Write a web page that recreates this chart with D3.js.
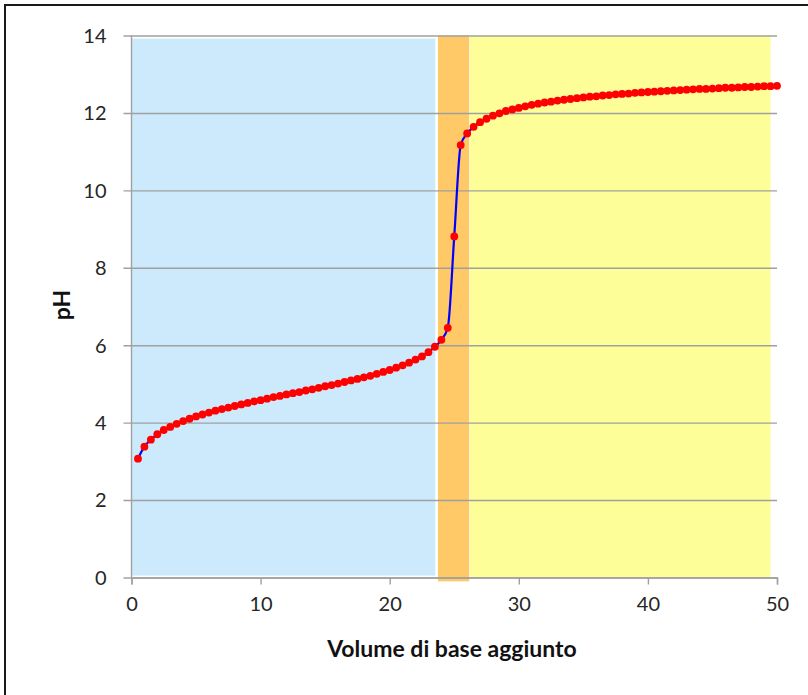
<!DOCTYPE html>
<html>
<head>
<meta charset="utf-8">
<script src="https://cdn.jsdelivr.net/npm/d3@7"></script>
<style>
  html, body { margin: 0; padding: 0; background: #ffffff; }
  svg { display: block; }
</style>
</head>
<body>
<svg id="chart" width="808" height="695"></svg>
<script>
// Titration curve: pH vs volume of base added (mL)
const volumes = [
  0.5, 1, 1.5, 2, 2.5, 3, 3.5, 4, 4.5, 5, 5.5, 6, 6.5, 7, 7.5, 8, 8.5, 9, 9.5, 10,
  10.5, 11, 11.5, 12, 12.5, 13, 13.5, 14, 14.5, 15, 15.5, 16, 16.5, 17, 17.5, 18, 18.5, 19, 19.5, 20,
  20.5, 21, 21.5, 22, 22.5, 23, 23.5, 24, 24.5, 25, 25.5, 26, 26.5, 27, 27.5, 28, 28.5, 29, 29.5, 30,
  30.5, 31, 31.5, 32, 32.5, 33, 33.5, 34, 34.5, 35, 35.5, 36, 36.5, 37, 37.5, 38, 38.5, 39, 39.5, 40,
  40.5, 41, 41.5, 42, 42.5, 43, 43.5, 44, 44.5, 45, 45.5, 46, 46.5, 47, 47.5, 48, 48.5, 49, 49.5, 50
];
const phValues = [
  3.07, 3.38, 3.56, 3.70, 3.81, 3.89, 3.97, 4.04, 4.10, 4.16, 4.21, 4.26, 4.31, 4.35, 4.39, 4.43, 4.47, 4.51, 4.55, 4.58,
  4.62, 4.66, 4.69, 4.73, 4.76, 4.79, 4.83, 4.86, 4.90, 4.94, 4.97, 5.01, 5.05, 5.09, 5.13, 5.17, 5.21, 5.26, 5.31, 5.36,
  5.42, 5.48, 5.55, 5.63, 5.71, 5.82, 5.96, 6.14, 6.45, 8.81, 11.17, 11.47, 11.64, 11.76, 11.85, 11.93, 11.99, 12.05, 12.09, 12.13,
  12.17, 12.21, 12.24, 12.27, 12.29, 12.32, 12.34, 12.36, 12.38, 12.40, 12.42, 12.43, 12.45, 12.46, 12.48, 12.49, 12.50, 12.52, 12.53, 12.54,
  12.55, 12.56, 12.57, 12.58, 12.59, 12.60, 12.61, 12.62, 12.62, 12.63, 12.64, 12.65, 12.65, 12.66, 12.67, 12.67, 12.68, 12.69, 12.69, 12.70
];

// Shaded regions: buffer zone, equivalence zone, excess base zone
const zoneNames  = ["tampone", "equivalenza", "eccesso"];
const zoneStart  = [0.03, 23.74, 26.22];
const zoneEnd    = [23.53, 26.16, 49.5];
const zoneTop    = [13.92, 14, 14];
const zoneBottom = [0.05, -0.1, 0];
const zoneColors = ["#cdeafd", "#fec966", "#fefe99"];

const xTicks = [0, 10, 20, 30, 40, 50];
const yTicks = [0, 2, 4, 6, 8, 10, 12, 14];

const xLabel = "Volume di base aggiunto";
const yLabel = "pH";

const svg = d3.select("#chart");
const W = 808, H = 695;

// Outer frame
svg.append("rect")
  .attr("x", 5).attr("y", 5)
  .attr("width", W + 10).attr("height", H + 10)
  .attr("fill", "#ffffff")
  .attr("stroke", "#1a1a1a")
  .attr("stroke-width", 2);

const x = d3.scaleLinear().domain([0, 50]).range([131.5, 777]);
const y = d3.scaleLinear().domain([0, 14]).range([577.5, 35.5]);

// Background zones
svg.append("g").selectAll("rect")
  .data(zoneNames.map((n, i) => ({ n, x0: zoneStart[i], x1: zoneEnd[i], y0: zoneBottom[i], y1: zoneTop[i], c: zoneColors[i] })))
  .join("rect")
  .attr("x", d => x(d.x0))
  .attr("width", d => x(d.x1) - x(d.x0))
  .attr("y", d => y(d.y1))
  .attr("height", d => y(d.y0) - y(d.y1))
  .attr("fill", d => d.c);

// Horizontal gridlines with left ticks
const yAxis = d3.axisLeft(y)
  .tickValues(yTicks)
  .tickSize(-(x(50) - x(0)))
  .tickPadding(25)
  .tickFormat(d3.format("d"));
const gy = svg.append("g")
  .attr("transform", `translate(${x(0)},0)`)
  .call(yAxis);
gy.select(".domain").remove();
gy.selectAll(".tick line")
  .attr("x1", -8)
  .attr("stroke", "#a0a0a0")
  .attr("stroke-width", 1.4);
gy.selectAll(".tick text")
  .attr("fill", "#262626")
  .attr("font-family", "Lato, 'Open Sans', sans-serif")
  .attr("font-size", 20)
  .attr("dy", "0.34em");

// Vertical axis line
svg.append("line")
  .attr("x1", x(0)).attr("x2", x(0))
  .attr("y1", y(14)).attr("y2", y(0))
  .attr("stroke", "#a0a0a0")
  .attr("stroke-width", 1.4);

// X axis
const xAxis = d3.axisBottom(x)
  .tickValues(xTicks)
  .tickSize(7)
  .tickPadding(12)
  .tickFormat(d3.format("d"));
const gx = svg.append("g")
  .attr("transform", `translate(0,${y(0)})`)
  .call(xAxis);
gx.select(".domain").attr("stroke", "#a0a0a0").attr("stroke-width", 1.4);
gx.selectAll(".tick line").attr("stroke", "#a0a0a0").attr("stroke-width", 1.4);
gx.selectAll(".tick text")
  .attr("fill", "#262626")
  .attr("font-family", "Lato, 'Open Sans', sans-serif")
  .attr("font-size", 20);

// Curve and points
const points = volumes.map((v, i) => ({ v, ph: phValues[i] }));

svg.append("path")
  .datum(points)
  .attr("fill", "none")
  .attr("stroke", "#0000ff")
  .attr("stroke-width", 2.2)
  .attr("d", d3.line().x(d => x(d.v)).y(d => y(d.ph)).curve(d3.curveMonotoneX));

svg.append("g").selectAll("circle")
  .data(points)
  .join("circle")
  .attr("cx", d => x(d.v))
  .attr("cy", d => y(d.ph))
  .attr("r", 3.9)
  .attr("fill", "#ff0000");

// Axis titles
svg.append("text")
  .attr("x", 452).attr("y", 657)
  .attr("text-anchor", "middle")
  .attr("font-family", "Lato, 'Open Sans', sans-serif")
  .attr("font-weight", "bold")
  .attr("font-size", 23)
  .attr("fill", "#111111")
  .text(xLabel);

svg.append("text")
  .attr("transform", `translate(70,305) rotate(-90)`)
  .attr("text-anchor", "middle")
  .attr("font-family", "Lato, 'Open Sans', sans-serif")
  .attr("font-weight", "bold")
  .attr("font-size", 23)
  .attr("fill", "#111111")
  .text(yLabel);
</script>
</body>
</html>
